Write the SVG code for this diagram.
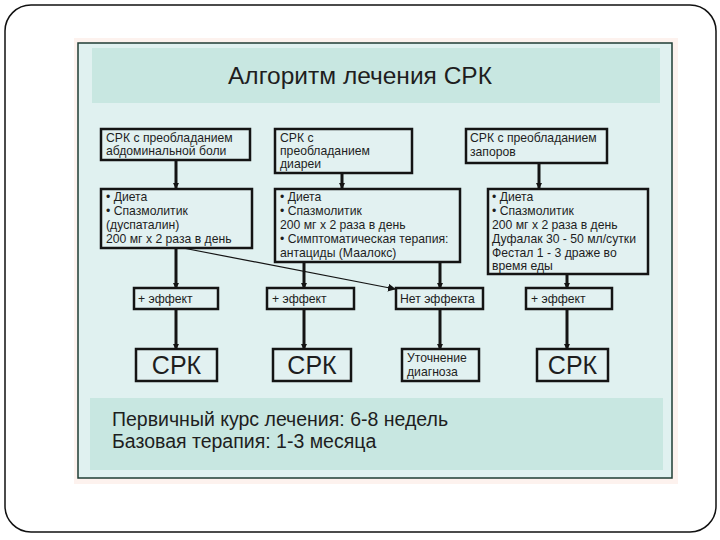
<svg xmlns="http://www.w3.org/2000/svg" width="720" height="540" viewBox="0 0 720 540">
<defs>
<style>
.t{font-family:"Liberation Sans",Arial,sans-serif;fill:#1e1e1e}
.s{font-size:12.2px}
.box{fill:#e2f1f1;stroke:#141414;stroke-width:2.5}
.c{stroke:#141414;stroke-width:3;fill:none}
.thin{stroke:#141414;stroke-width:1.2;fill:none}
</style>
<marker id="ah" viewBox="0 0 6 6" refX="5" refY="3" markerWidth="6" markerHeight="6" markerUnits="userSpaceOnUse" orient="auto">
<path d="M0,0 L6,3 L0,6 z" fill="#141414"/>
</marker>
<marker id="ah2" viewBox="0 0 8 8" refX="7" refY="4" markerWidth="8" markerHeight="8" markerUnits="userSpaceOnUse" orient="auto">
<path d="M0,0 L8,4 L0,8 z" fill="#141414"/>
</marker>
</defs>
<rect x="0" y="0" width="720" height="540" fill="#ffffff"/>
<rect x="5" y="5" width="711" height="527" rx="26" fill="none" stroke="#111" stroke-width="1.5"/>
<rect x="74" y="38" width="604" height="446" fill="#fdf2ee"/>
<rect x="78" y="43" width="594" height="435" fill="#e0f1f0" stroke="#1f3d35" stroke-width="1.5"/>
<rect x="92" y="48" width="568" height="55" fill="#c8e7e1"/>
<rect x="90" y="398" width="573" height="72" fill="#c8e7e1"/>
<g id="title"><text class="t" x="360" y="84" font-size="24.5" text-anchor="middle">Алгоритм лечения СРК</text></g>

<g id="connectors">
<line class="c" x1="176" y1="160" x2="176" y2="188" marker-end="url(#ah)"/>
<line class="c" x1="342" y1="173" x2="342" y2="188" marker-end="url(#ah)"/>
<line class="c" x1="539" y1="163" x2="539" y2="188" marker-end="url(#ah)"/>
<line class="c" x1="176" y1="248" x2="176" y2="288" marker-end="url(#ah)"/>
<line class="c" x1="304" y1="262" x2="304" y2="288" marker-end="url(#ah)"/>
<line class="c" x1="440" y1="262" x2="440" y2="288" marker-end="url(#ah)"/>
<line class="c" x1="567" y1="274" x2="567" y2="288" marker-end="url(#ah)"/>
<line class="thin" x1="183" y1="248" x2="395" y2="289" marker-end="url(#ah2)"/>
<line class="c" x1="176" y1="309" x2="176" y2="349" marker-end="url(#ah)"/>
<line class="c" x1="304" y1="309" x2="304" y2="349" marker-end="url(#ah)"/>
<line class="c" x1="440" y1="309" x2="440" y2="349" marker-end="url(#ah)"/>
<line class="c" x1="567" y1="309" x2="567" y2="349" marker-end="url(#ah)"/>
</g>

<g id="n_a"><rect class="box" x="101" y="129" width="149" height="31"/>
<text class="t s" x="106" y="142">СРК с преобладанием</text>
<text class="t s" x="106" y="155">абдоминальной боли</text></g>
<g id="n_b"><rect class="box" x="275" y="129" width="137" height="44"/>
<text class="t s" x="280" y="142">СРК с</text>
<text class="t s" x="280" y="155">преобладанием</text>
<text class="t s" x="280" y="168">диареи</text></g>
<g id="n_c"><rect class="box" x="466" y="129" width="141" height="34"/>
<text class="t s" x="470" y="142">СРК с преобладанием</text>
<text class="t s" x="470" y="156">запоров</text></g>

<g id="n_d"><rect class="box" x="101" y="189" width="151" height="59"/>
<text class="t s" x="106" y="201">• Диета</text>
<text class="t s" x="106" y="215">• Спазмолитик</text>
<text class="t s" x="106" y="229">(дуспаталин)</text>
<text class="t s" x="106" y="243">200 мг х 2 раза в день</text></g>
<g id="n_e"><rect class="box" x="275" y="189" width="185" height="73"/>
<text class="t s" x="280" y="201">• Диета</text>
<text class="t s" x="280" y="215">• Спазмолитик</text>
<text class="t s" x="280" y="229">200 мг х 2 раза в день</text>
<text class="t s" x="280" y="243">• Симптоматическая терапия:</text>
<text class="t s" x="280" y="257">антациды (Маалокс)</text></g>
<g id="n_f"><rect class="box" x="488" y="189" width="160" height="85"/>
<text class="t s" x="492" y="201">• Диета</text>
<text class="t s" x="492" y="215">• Спазмолитик</text>
<text class="t s" x="492" y="229">200 мг х 2 раза в день</text>
<text class="t s" x="492" y="243">Дуфалак 30 - 50 мл/сутки</text>
<text class="t s" x="492" y="257">Фестал 1 - 3 драже во</text>
<text class="t s" x="492" y="270">время еды</text></g>

<g id="n_e1"><rect class="box" x="134" y="288" width="84" height="21"/>
<text class="t s" x="138" y="303">+ эффект</text></g>
<g id="n_e2"><rect class="box" x="267" y="288" width="87" height="21"/>
<text class="t s" x="272" y="303">+ эффект</text></g>
<g id="n_e3"><rect class="box" x="396" y="288" width="87" height="21"/>
<text class="t s" x="400" y="303">Нет эффекта</text></g>
<g id="n_e4"><rect class="box" x="526" y="288" width="86" height="21"/>
<text class="t s" x="531" y="303">+ эффект</text></g>

<g id="n_r1"><rect class="box" x="136" y="349" width="81" height="32"/>
<text class="t" x="176.5" y="374" font-size="25" text-anchor="middle">СРК</text></g>
<g id="n_r2"><rect class="box" x="273" y="349" width="78" height="32"/>
<text class="t" x="312" y="374" font-size="25" text-anchor="middle">СРК</text></g>
<g id="n_r3"><rect class="box" x="402" y="349" width="77" height="32"/>
<text class="t s" x="407" y="362">Уточнение</text>
<text class="t s" x="407" y="376">диагноза</text></g>
<g id="n_r4"><rect class="box" x="537" y="349" width="71" height="32"/>
<text class="t" x="572.5" y="374" font-size="25" text-anchor="middle">СРК</text></g>

<g id="footer">
<text class="t" x="112" y="426" font-size="19.5">Первичный курс лечения: 6-8 недель</text>
<text class="t" x="112" y="448" font-size="19.5">Базовая терапия: 1-3 месяца</text>
</g>
</svg>
